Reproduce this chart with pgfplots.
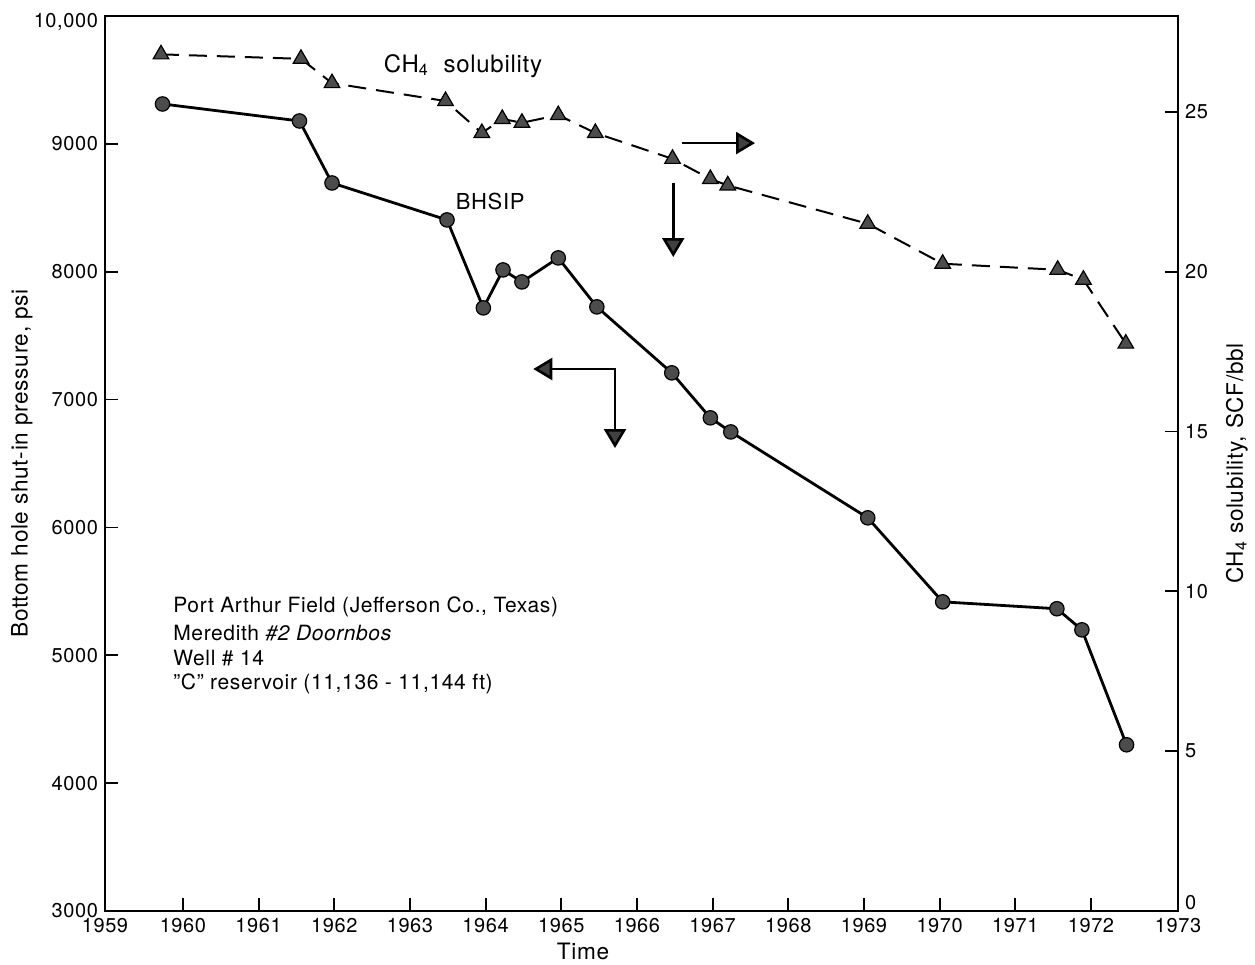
\documentclass[border=0pt]{standalone}
\usepackage{fontspec}
\setmainfont{TeX Gyre Heros}[LetterSpace=3]
\usepackage{pgfplots}
\usepackage{pgfplotstable}
\pgfplotsset{compat=1.18}
\usetikzlibrary{arrows.meta}
\newcommand\tenk{10{,}000}

\pgfplotstableread{
year psi
1959.73 9312
1961.54 9179
1961.97 8694
1963.49 8405
1963.97 7717
1964.23 8014
1964.48 7920
1964.96 8108
1965.47 7725
1966.46 7209
1966.97 6857
1967.24 6747
1969.05 6075
1970.04 5418
1971.55 5364
1971.88 5199
1972.47 4300
}\bhsip

\pgfplotstableread{
year sol
1959.71 26.80
1961.56 26.66
1961.97 25.90
1963.47 25.34
1963.95 24.34
1964.22 24.78
1964.48 24.66
1964.96 24.90
1965.45 24.34
1966.47 23.53
1966.97 22.90
1967.20 22.70
1969.05 21.50
1970.04 20.25
1971.56 20.06
1971.90 19.75
1972.46 17.75
}\solub

\pgfplotsset{
  common/.style={
    at={(0,0)}, anchor=south west,
    scale only axis, width=536.5pt, height=447.5pt,
    xmin=1958.97, xmax=1973.15,
    scaled ticks=false,
    tick align=inside,
    major tick length=6.5pt,
    axis line style={line width=0.9pt},
    tick style={line width=0.9pt, black},
    tick label style={font=\fontsize{10}{12}\selectfont},
    label style={font=\fontsize{11.3}{13}\selectfont},
  }
}

\begin{document}
\begin{tikzpicture}
\path[use as bounding box] (-52.5pt,-27pt) rectangle (575pt,455.5pt);
\begin{axis}[common,
  ymin=3000, ymax=10000,
  xtick={1958.97,1960,1961,1962,1963,1964,1965,1966,1967,1968,1969,1970,1971,1972,1973.15},
  xticklabels={1959,1960,1961,1962,1963,1964,1965,1966,1967,1968,1969,1970,1971,1972,1973},
  ytick={3000,4000,5000,6000,7000,8000,9000},
  yticklabels={3000,4000,5000,6000,7000,8000,9000},
  extra y ticks={10000},
  extra y tick labels={\tenk},
  extra y tick style={yticklabel style={yshift=-3pt}},
  xtick pos=left, ytick pos=left,
  xlabel={Time},
  xlabel style={at={(axis description cs:0.4455,-0.0447)}, anchor=center},
  ylabel={Bottom hole shut-in pressure, psi},
  ylabel style={at={(axis description cs:-0.0774,0.5)}, anchor=center},
]
\addplot[black, line width=1.4pt, mark=*, mark size=3.6pt,
  mark options={fill=black!70, draw=black, line width=0.6pt, solid}]
  table[x=year, y=psi] {\bhsip};

\node[anchor=center, font=\fontsize{12}{13}\selectfont] at (axis cs:1963.70,9609) {CH\textsubscript{4}\ \ solubility};
\node[anchor=center, font=\fontsize{11}{13}\selectfont] at (axis cs:1964.06,8553) {BHSIP};

\begin{scope}[font=\fontsize{10.5}{13}\selectfont]
\node[anchor=west] at (axis cs:1959.78,5377) {Port Arthur Field (Jefferson Co., Texas)};
\node[anchor=west] at (axis cs:1959.78,5174) {Meredith \textit{\#2 Doornbos}};
\node[anchor=west] at (axis cs:1959.78,4978) {Well \# 14};
\node[anchor=west] at (axis cs:1959.78,4775) {"C" reservoir (11,136 - 11,144 ft)};
\end{scope}

\begin{scope}[line width=1.3pt, draw=black, arrows={-{Triangle[length=9.5pt,width=11pt,fill=black!75]}}]
\draw (axis cs:1966.60,9006) -- (axis cs:1967.56,9006);
\draw (axis cs:1966.48,8694) -- (axis cs:1966.48,8115);
\draw[{Triangle[length=9.5pt,width=11pt,fill=black!75]}-{Triangle[length=9.5pt,width=11pt,fill=black!75]}]
  (axis cs:1964.63,7239) -- (axis cs:1965.71,7239) -- (axis cs:1965.71,6621);
\end{scope}
\end{axis}

\begin{axis}[common,
  ymin=0, ymax=28,
  axis x line=none,
  xtick=\empty,
  axis y line*=right,
  ytick={5,10,15,20,25},
  yticklabels={5,10,15,20,25},
  extra y ticks={0},
  extra y tick labels={0},
  extra y tick style={yticklabel style={yshift=4pt}},
  ylabel={CH\textsubscript{4} solubility, SCF/bbl},
  ylabel style={at={(axis description cs:1.055,0.5)}, anchor=center},
]
\addplot[black, line width=1pt, dash pattern=on 9pt off 5pt, mark=triangle*, mark size=4.5pt,
  mark options={fill=black!70, draw=black, line width=0.6pt, solid}]
  table[x=year, y=sol] {\solub};
\end{axis}
\end{tikzpicture}
\end{document}
